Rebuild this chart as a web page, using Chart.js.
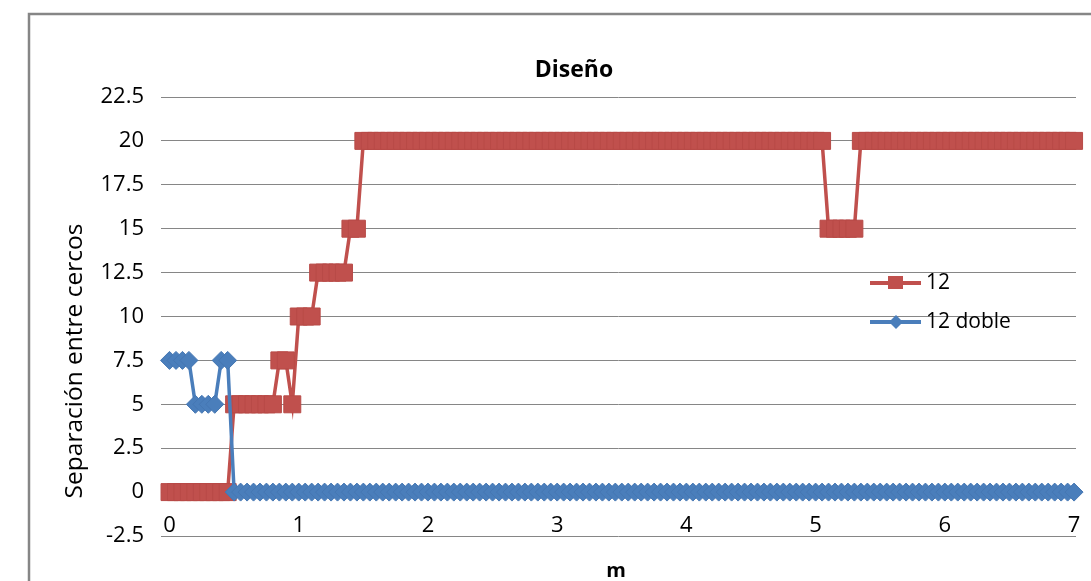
<!DOCTYPE html>
<html>
<head>
<meta charset="utf-8">
<title>Diseño</title>
<script src="https://cdn.jsdelivr.net/npm/chart.js@4.4.0/dist/chart.umd.min.js"></script>
<style>
  html, body { margin: 0; padding: 0; background: #fff; }
  #wrap { width: 1091px; height: 581px; }
</style>
</head>
<body>
<div id="wrap"><canvas id="myChart" width="1091" height="581"></canvas></div>
<script>
// Datos (m)
const distancias = [
  0, 0.05, 0.1, 0.15, 0.2, 0.25, 0.3, 0.35, 0.4, 0.45, 0.5, 0.55, 0.6, 0.65, 0.7, 0.75, 0.8, 0.85, 0.9, 0.95,
  1, 1.05, 1.1, 1.15, 1.2, 1.25, 1.3, 1.35, 1.4, 1.45, 1.5, 1.55, 1.6, 1.65, 1.7, 1.75, 1.8, 1.85, 1.9, 1.95,
  2, 2.05, 2.1, 2.15, 2.2, 2.25, 2.3, 2.35, 2.4, 2.45, 2.5, 2.55, 2.6, 2.65, 2.7, 2.75, 2.8, 2.85, 2.9, 2.95,
  3, 3.05, 3.1, 3.15, 3.2, 3.25, 3.3, 3.35, 3.4, 3.45, 3.5, 3.55, 3.6, 3.65, 3.7, 3.75, 3.8, 3.85, 3.9, 3.95,
  4, 4.05, 4.1, 4.15, 4.2, 4.25, 4.3, 4.35, 4.4, 4.45, 4.5, 4.55, 4.6, 4.65, 4.7, 4.75, 4.8, 4.85, 4.9, 4.95,
  5, 5.05, 5.1, 5.15, 5.2, 5.25, 5.3, 5.35, 5.4, 5.45, 5.5, 5.55, 5.6, 5.65, 5.7, 5.75, 5.8, 5.85, 5.9, 5.95,
  6, 6.05, 6.1, 6.15, 6.2, 6.25, 6.3, 6.35, 6.4, 6.45, 6.5, 6.55, 6.6, 6.65, 6.7, 6.75, 6.8, 6.85, 6.9, 6.95,
  7
];

// Serie "12"
const serie12 = [
  0, 0, 0, 0, 0, 0, 0, 0, 0, 0, 5, 5, 5, 5, 5, 5, 5, 7.5, 7.5, 5,
  10, 10, 10, 12.5, 12.5, 12.5, 12.5, 12.5, 15, 15, 20, 20, 20, 20, 20, 20, 20, 20, 20, 20,
  20, 20, 20, 20, 20, 20, 20, 20, 20, 20, 20, 20, 20, 20, 20, 20, 20, 20, 20, 20,
  20, 20, 20, 20, 20, 20, 20, 20, 20, 20, 20, 20, 20, 20, 20, 20, 20, 20, 20, 20,
  20, 20, 20, 20, 20, 20, 20, 20, 20, 20, 20, 20, 20, 20, 20, 20, 20, 20, 20, 20,
  20, 20, 15, 15, 15, 15, 15, 20, 20, 20, 20, 20, 20, 20, 20, 20, 20, 20, 20, 20,
  20, 20, 20, 20, 20, 20, 20, 20, 20, 20, 20, 20, 20, 20, 20, 20, 20, 20, 20, 20,
  20
];

// Serie "12 doble"
const serie12doble = [
  7.5, 7.5, 7.5, 7.5, 5, 5, 5, 5, 7.5, 7.5, 0, 0, 0, 0, 0, 0, 0, 0, 0, 0,
  0, 0, 0, 0, 0, 0, 0, 0, 0, 0, 0, 0, 0, 0, 0, 0, 0, 0, 0, 0,
  0, 0, 0, 0, 0, 0, 0, 0, 0, 0, 0, 0, 0, 0, 0, 0, 0, 0, 0, 0,
  0, 0, 0, 0, 0, 0, 0, 0, 0, 0, 0, 0, 0, 0, 0, 0, 0, 0, 0, 0,
  0, 0, 0, 0, 0, 0, 0, 0, 0, 0, 0, 0, 0, 0, 0, 0, 0, 0, 0, 0,
  0, 0, 0, 0, 0, 0, 0, 0, 0, 0, 0, 0, 0, 0, 0, 0, 0, 0, 0, 0,
  0, 0, 0, 0, 0, 0, 0, 0, 0, 0, 0, 0, 0, 0, 0, 0, 0, 0, 0, 0,
  0
];

const ticksX = [0, 1, 2, 3, 4, 5, 6, 7];
const ticksY = [-2.5, 0, 2.5, 5, 7.5, 10, 12.5, 15, 17.5, 20, 22.5];

const rojo = '#C0504D';
const azul = '#4A7EBB';
const fuente = '"Open Sans", "DejaVu Sans", sans-serif';

function puntos(serie) {
  return distancias.map((d, i) => ({ x: d, y: serie[i] }));
}

//  Titulos, borde y leyenda
const decoracion = {
  id: 'decoracion',
  beforeDraw(chart) {
    const ctx = chart.ctx;
    ctx.save();
    ctx.fillStyle = '#fff';
    ctx.fillRect(0, 0, chart.width, chart.height);
    ctx.strokeStyle = '#868686';
    ctx.lineWidth = 2.5;
    ctx.strokeRect(29, 14, 2000, 2000);
    ctx.restore();
  },
  afterDraw(chart) {
    const ctx = chart.ctx;
    ctx.save();
    ctx.fillStyle = '#000';

    // titulo
    ctx.font = 'bold 23px ' + fuente;
    ctx.textAlign = 'center';
    ctx.textBaseline = 'alphabetic';
    ctx.fillText('Diseño', 574, 77);

    // eje x
    ctx.font = 'bold 20px ' + fuente;
    ctx.fillText('m', 616, 577);

    // eje y
    ctx.save();
    ctx.translate(75, 361);
    ctx.rotate(-Math.PI / 2);
    ctx.font = '24.5px ' + fuente;
    ctx.textBaseline = 'middle';
    ctx.fillText('Separación entre cercos', 0, 0);
    ctx.restore();

    // leyenda
    const filas = [283, 322];
    chart.data.datasets.slice().sort((a, b) => b.order - a.order).forEach((ds, i) => {
      const y = filas[i];
      ctx.strokeStyle = ds.borderColor;
      ctx.lineWidth = 4;
      ctx.beginPath();
      ctx.moveTo(870, y);
      ctx.lineTo(921, y);
      ctx.stroke();
      ctx.fillStyle = ds.borderColor;
      if (ds.pointStyle === 'rect') {
        ctx.fillRect(888, y - 7, 15, 13);
      } else {
        ctx.beginPath();
        ctx.moveTo(896, y - 7);
        ctx.lineTo(903, y);
        ctx.lineTo(896, y + 7);
        ctx.lineTo(889, y);
        ctx.closePath();
        ctx.fill();
      }
      ctx.fillStyle = '#000';
      ctx.font = '21px ' + fuente;
      ctx.textAlign = 'left';
      ctx.textBaseline = 'middle';
      ctx.fillText(ds.label, 926, y);
    });
    ctx.restore();
  }
};

const config = {
  type: 'line',
  data: {
    datasets: [{
      label: '12',
      data: puntos(serie12),
      borderColor: rojo,
      backgroundColor: rojo,
      borderWidth: 3.5,
      pointStyle: 'rect',
      pointRadius: 12,
      pointBorderWidth: 1,
      pointBackgroundColor: rojo,
      pointBorderColor: '#B84A47',
      clip: false,
      order: 2
    }, {
      label: '12 doble',
      data: puntos(serie12doble),
      borderColor: azul,
      backgroundColor: azul,
      borderWidth: 3.5,
      pointStyle: 'rectRot',
      pointRadius: 9,
      pointBorderWidth: 1,
      pointBackgroundColor: azul,
      pointBorderColor: '#4577B3',
      clip: false,
      order: 1
    }]
  },
  options: {
    responsive: false,
    animation: false,
    devicePixelRatio: 1,
    layout: { padding: { top: 97, right: 15, left: 0, bottom: 0 } },
    plugins: {
      legend: { display: false },
      tooltip: { enabled: false },
      title: { display: false }
    },
    scales: {
      x: {
        type: 'linear',
        min: -0.066,
        max: 7.015,
        grid: { display: false, drawTicks: false },
        border: { display: false },
        ticks: {
          color: '#000',
          font: { family: fuente, size: 22 },
          mirror: true,
          padding: -3,
          maxRotation: 0
        },
        afterBuildTicks(scale) { scale.ticks = ticksX.map(v => ({ value: v })); },
        afterFit(scale) { scale.height = 45; }
      },
      y: {
        min: -2.5,
        max: 22.5,
        grid: { color: '#868686', lineWidth: 1, drawTicks: false },
        border: { display: false },
        ticks: {
          color: '#000',
          font: { family: fuente, size: 22 },
          padding: 17,
          callback: v => String(v)
        },
        afterBuildTicks(scale) { scale.ticks = ticksY.map(v => ({ value: v })); },
        afterFit(scale) { scale.width = 161; }
      }
    }
  },
  plugins: [decoracion]
};

const myChart = new Chart(document.getElementById('myChart'), config);
</script>
</body>
</html>
